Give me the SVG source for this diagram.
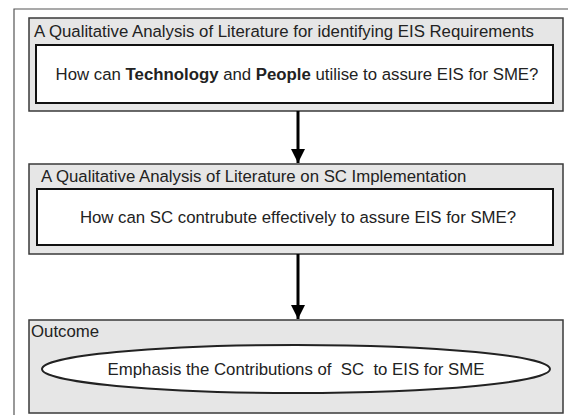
<svg xmlns="http://www.w3.org/2000/svg" width="568" height="415" viewBox="0 0 568 415">
<defs>
<marker id="ah" viewBox="0 0 10 10" refX="10" refY="5" markerWidth="4.8" markerHeight="5" orient="auto" markerUnits="strokeWidth">
<path d="M0,0 L10,5 L0,10 z" fill="#000"/>
</marker>
</defs>
<style>
text{font-family:"Liberation Sans",Arial,sans-serif;font-size:16.8px;fill:#222}
.grp{fill:#e6e6e6;stroke:#3a3a3a;stroke-width:1.5}
.inner{fill:#fff;stroke:#111;stroke-width:2}
.conn{stroke:#000;stroke-width:3;fill:none}
</style>
<rect width="568" height="415" fill="#fff"/>
<path d="M14,415 V9 H568" fill="none" stroke="#555" stroke-width="1.2"/>
<g id="node1">
<rect class="grp" x="29" y="18" width="534" height="93"/>
<text x="34" y="37">A Qualitative Analysis of Literature for identifying EIS Requirements</text>
<rect class="inner" x="36" y="45" width="517" height="58"/>
<text x="297" y="80" text-anchor="middle">How can <tspan font-weight="bold">Technology</tspan> and <tspan font-weight="bold">People</tspan> utilise to assure EIS for SME?</text>
</g>
<g id="node2">
<rect class="grp" x="29" y="164" width="534" height="90"/>
<text x="41" y="182">A Qualitative Analysis of Literature on SC Implementation</text>
<rect class="inner" x="37" y="189" width="516" height="56"/>
<text x="298" y="223" text-anchor="middle">How can SC contrubute effectively to assure EIS for SME?</text>
</g>
<g id="node3">
<rect class="grp" x="29" y="320" width="534" height="93"/>
<text x="31" y="337">Outcome</text>
<ellipse cx="296" cy="369" rx="254" ry="24" fill="#fff" stroke="#222" stroke-width="2"/>
<text x="296" y="375" text-anchor="middle" xml:space="preserve">Emphasis the Contributions of  SC  to EIS for SME</text>
</g>
<g id="connectors">
<line class="conn" x1="298" y1="111" x2="298" y2="163" marker-end="url(#ah)"/>
<line class="conn" x1="298" y1="254" x2="298" y2="319" marker-end="url(#ah)"/>
</g>
</svg>
